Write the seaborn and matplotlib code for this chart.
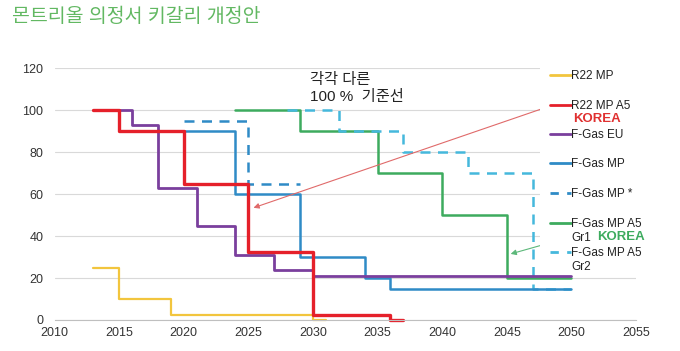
import matplotlib
matplotlib.use("Agg")
import matplotlib.pyplot as plt
from matplotlib.lines import Line2D
from matplotlib.patches import Rectangle
import pandas as pd
import seaborn as sns

# 단계별 감축 일정 (연도, 기준 대비 %)
r22_mp_years = [2013, 2015, 2019, 2030, 2031]
r22_mp_vals = [25, 10, 2.5, 0, 0]

r22_a5_years = [2013, 2015, 2020, 2025, 2030, 2036, 2037]
r22_a5_vals = [100, 90, 65, 32.5, 2.5, 0, 0]

fgas_eu_years = [2015, 2016, 2018, 2021, 2024, 2027, 2030, 2050]
fgas_eu_vals = [100, 93, 63, 45, 31, 24, 21, 21]

fgas_mp_years = [2019, 2024, 2029, 2034, 2036, 2050]
fgas_mp_vals = [90, 60, 30, 20, 15, 15]

fgas_mp_star_years = [2020, 2025, 2029]
fgas_mp_star_vals = [95, 65, 65]

gr1_years = [2024, 2029, 2035, 2040, 2045, 2050]
gr1_vals = [100, 90, 70, 50, 20, 20]

gr2_years = [2028, 2032, 2037, 2042, 2047, 2050]
gr2_vals = [100, 90, 80, 70, 15, 15]

legend_labels = ["R22 MP", "R22 MP A5", "F-Gas EU", "F-Gas MP", "F-Gas MP *",
                 "F-Gas MP A5\nGr1", "F-Gas MP A5\nGr2"]

sns.set_style("white")
plt.rcParams['font.family'] = ['Liberation Sans', 'Noto Sans CJK KR']

W, H = 680, 351
fig = plt.figure(figsize=(W / 100, H / 100), dpi=100)
ax = fig.add_axes([54.5 / W, 1 - 320 / H, (636 - 54.5) / W, (320 - 68.3) / H])


def fx(px):
    return px / W


def fy(py):
    return 1 - py / H


# 선 스타일 (그리는 순서대로)
series = [
    ("R22 MP", r22_mp_years, r22_mp_vals, "#f2c53d", "-", 1.6),
    ("F-Gas MP A5 Gr1", gr1_years, gr1_vals, "#3dab5e", "-", 1.8),
    ("F-Gas MP A5 Gr2", gr2_years, gr2_vals, "#45b8dc", (0, (4, 3)), 1.8),
    ("F-Gas MP", fgas_mp_years, fgas_mp_vals, "#2f8bc6", "-", 1.8),
    ("F-Gas MP *", fgas_mp_star_years, fgas_mp_star_vals, "#2f8bc6", (0, (4, 3)), 1.8),
    ("F-Gas EU", fgas_eu_years, fgas_eu_vals, "#7a3f9d", "-", 2.0),
    ("R22 MP A5", r22_a5_years, r22_a5_vals, "#e5202a", "-", 2.4),
]

for name, xs, ys, col, ls, lw in series:
    df = pd.DataFrame({"year": xs, "value": ys})
    sns.lineplot(data=df, x="year", y="value", ax=ax, color=col, linestyle=ls,
                 linewidth=lw, drawstyle="steps-post", estimator=None,
                 sort=False, clip_on=False)

ax.set_xlim(2010, 2055)
ax.set_ylim(0, 120)
ax.set_xticks(range(2010, 2056, 5))
ax.set_yticks(range(0, 121, 20))
ax.set_xlabel("")
ax.set_ylabel("")
ax.yaxis.grid(True, color="#d9d9d9", linewidth=0.8)
ax.set_axisbelow(True)
for s in ["top", "right", "left"]:
    ax.spines[s].set_visible(False)
ax.spines["bottom"].set_color("#bfbfbf")
ax.tick_params(axis="y", length=5, color="#d9d9d9", labelsize=9, labelcolor="#333333", pad=3)
ax.tick_params(axis="x", length=0, labelsize=9, labelcolor="#333333", pad=5)

# 범례 영역 (흰 배경)
fig.add_artist(Rectangle((fx(540), fy(272)), fx(680) - fx(540), fy(60) - fy(272),
                         transform=fig.transFigure, facecolor="white",
                         edgecolor="none", zorder=3))

legend_rows = [75, 105, 134, 163, 193, 223, 252]
legend_style = {
    "R22 MP": ("#f2c53d", "-"),
    "R22 MP A5": ("#e5202a", "-"),
    "F-Gas EU": ("#7a3f9d", "-"),
    "F-Gas MP": ("#2f8bc6", "-"),
    "F-Gas MP *": ("#2f8bc6", (0, (3, 3))),
    "F-Gas MP A5\nGr1": ("#3dab5e", "-"),
    "F-Gas MP A5\nGr2": ("#45b8dc", (0, (3, 3))),
}
for lab, row in zip(legend_labels, legend_rows):
    col, ls = legend_style[lab]
    fig.add_artist(Line2D([fx(550), fx(571)], [fy(row), fy(row)], color=col,
                          linestyle=ls, linewidth=2, zorder=4,
                          transform=fig.transFigure))
    for i, part in enumerate(lab.split("\n")):
        fig.text(fx(571), fy(row + 4 + 14 * i), part, fontsize=8.5,
                 color="#222222", ha="left", va="baseline", zorder=5)

fig.text(fx(573), fy(119), "KOREA", fontsize=9.5, color="#e03030",
         fontweight="bold", ha="left", va="center", zorder=5)
fig.text(fx(597), fy(237), "KOREA", fontsize=9.5, color="#3dab5e",
         fontweight="bold", ha="left", va="center", zorder=5)

# 화살표
ax.annotate("", xy=(2025.4, 53.5), xytext=(2048.1, 101.5),
            arrowprops=dict(arrowstyle="-|>", color="#e06a6a", lw=0.8,
                            mutation_scale=8, shrinkA=0, shrinkB=0),
            zorder=6, annotation_clip=False)
ax.annotate("", xy=(2045.3, 31.5), xytext=(2049.9, 39.5),
            arrowprops=dict(arrowstyle="-|>", color="#5cb87a", lw=0.8,
                            mutation_scale=8, shrinkA=0, shrinkB=0),
            zorder=6, annotation_clip=False)

ax.text(2029.8, 110.4, "각각 다른\n100 %  기준선", fontsize=11, color="#222222",
        ha="left", va="center", linespacing=1.35)

fig.text(fx(12), fy(17), "몬트리올 의정서 키갈리 개정안", fontsize=14,
         color="#62b862", ha="left", va="center")

fig.savefig("out.png", dpi=100)
